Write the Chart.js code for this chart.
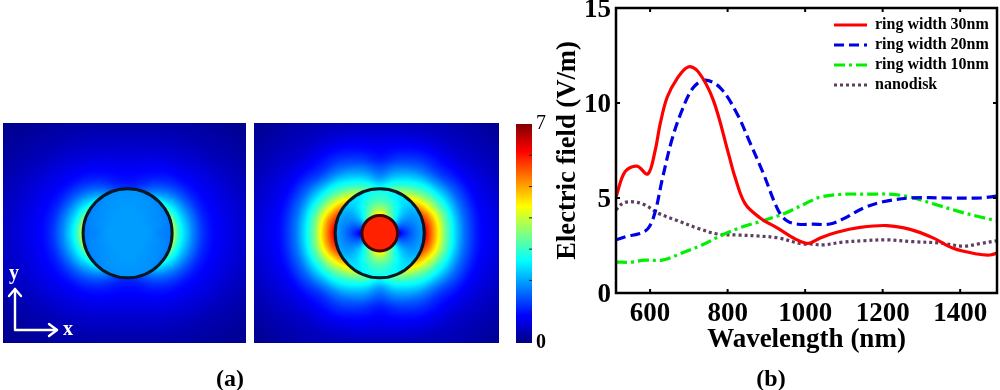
<!DOCTYPE html>
<html><head><meta charset="utf-8">
<style>
html,body{margin:0;padding:0;background:#fff;width:1000px;height:390px;overflow:hidden}
canvas{position:absolute;display:block}
.cap{position:absolute;font:bold 24px "Liberation Serif",serif;color:#000;line-height:24px;transform:translateX(-50%)}
</style>
<script src="https://cdn.jsdelivr.net/npm/chart.js@4/dist/chart.umd.min.js"></script>
</head><body>
<canvas id="main" style="left:0;top:0"></canvas>
<canvas id="h1" style="left:3px;top:123px"></canvas>
<canvas id="h2" style="left:254px;top:123px"></canvas>
<canvas id="cb" style="left:496px;top:113px"></canvas>
<div class="cap" style="left:230px;top:366px">(a)</div>
<div class="cap" style="left:771px;top:366px">(b)</div>
<script>
// ---- panel (b) spectra ----
const redX=[512,535,566,594,613,626,644,670,698,724,763,802,819,845,884,930,974,1000,1013,1039,1082,1142,1211,1271,1330,1382,1444,1477,1495];
const redY=[5.05,6.38,6.68,6.26,7.5,8.9,10.3,11.3,11.9,11.65,10.15,7.35,6.1,4.7,3.95,3.4,2.85,2.63,2.63,2.9,3.2,3.45,3.55,3.35,2.9,2.35,2.05,2.0,2.1];
const blueX=[512,543,569,595,613,631,656,682,711,742,781,824,858,892,930,953,982,1020,1064,1098,1150,1201,1271,1374,1452,1495];
const blueY=[2.8,3.0,3.1,3.4,4.27,5.95,8.05,9.6,10.8,11.2,10.8,9.45,7.9,6.3,4.37,3.8,3.62,3.62,3.63,3.9,4.47,4.8,5.0,5.0,5.0,5.1];
const greenX=[512,550,587,631,682,734,786,837,897,948,1000,1039,1098,1160,1219,1271,1330,1400,1452,1495];
const greenY=[1.63,1.62,1.73,1.73,2.1,2.53,3.05,3.47,3.84,4.2,4.7,5.05,5.2,5.2,5.2,5.05,4.7,4.27,4.0,3.8];
const diskX=[512,530,556,587,621,672,724,775,827,879,930,992,1013,1046,1098,1150,1211,1279,1348,1408,1452,1495];
const diskY=[4.37,4.73,4.8,4.63,4.2,3.8,3.4,3.1,3.05,3.0,2.9,2.58,2.58,2.53,2.68,2.75,2.8,2.7,2.63,2.47,2.6,2.75];
const seriesNames=['ring width 30nm','ring width 20nm','ring width 10nm','nanodisk'];
const xTicks=[600,800,1000,1200,1400], yTicks=[0,5,10,15];

// ---- panel (a) field maps: |E| read along rays from the ring centre ----
const angles=[0,15,30,45,60,75,90];
const radiiOut=[100,111,122,134,145,167,190,224,257,313,371];
const radiiRing=[40,54,70,85,100];
const diskEdge=40, ringEdge=100;
const diskOuter=[
 [4.1,3.2,2.6,2.2,1.8,1.25,.92,.72,.55,.3,.12],
 [3.9,3.05,2.5,2.1,1.75,1.2,.9,.7,.53,.3,.12],
 [3.2,2.7,2.3,1.9,1.55,1.1,.84,.65,.47,.26,.12],
 [2.6,2.2,1.85,1.55,1.3,.95,.76,.56,.38,.21,.1],
 [1.9,1.65,1.4,1.2,1.03,.84,.66,.47,.32,.17,.08],
 [1.35,1.2,1.05,.95,.86,.72,.57,.4,.26,.14,.07],
 [1.15,1.05,.95,.88,.8,.67,.53,.36,.23,.12,.06]];
const diskInner=[
 [1.95,1.9,1.8,1.75,1.7],[1.95,1.9,1.85,1.8,1.72],[1.95,1.9,1.85,1.82,1.75],[1.95,1.92,1.88,1.85,1.8],
 [1.95,1.92,1.9,1.88,1.85],[1.95,1.95,1.92,1.9,1.87],[1.95,1.95,1.92,1.9,1.87]];
const ringOuter=[
 [6.3,5.7,5.0,4.3,3.5,2.5,1.65,.95,.72,.38,.17],
 [6.0,5.5,4.9,4.2,3.5,2.5,1.65,.95,.68,.36,.17],
 [5.4,4.9,4.3,3.7,3.1,2.3,1.55,.9,.62,.34,.15],
 [4.6,4.2,3.6,3.1,2.7,1.9,1.25,.8,.52,.3,.13],
 [3.9,3.5,3.0,2.6,2.25,1.65,1.2,.76,.47,.26,.12],
 [3.2,2.9,2.5,2.15,1.85,1.35,1.0,.65,.39,.23,.1],
 [2.7,2.4,2.0,1.7,1.45,1.05,.85,.58,.34,.21,.09]];
const ringInner=[
 [.7,1.1,1.5,1.8,2.0],[1.3,1.45,1.65,1.85,2.0],[2.1,1.95,1.95,2.0,2.15],[3.0,2.6,2.35,2.3,2.4],
 [3.6,3.1,2.8,2.55,2.5],[4.2,3.6,3.1,2.8,2.65],[4.6,3.8,3.2,2.9,2.7]];
const coreValue=5.9;
const fieldMax=7;
const colorbarRange=[0,7];

const SERIF='"Liberation Serif",serif';
const clamp=v=>Math.max(0,Math.min(1,v));
function jet(v){const t=v/fieldMax;return [clamp(1.5-Math.abs(4*t-3))*255,clamp(1.5-Math.abs(4*t-2))*255,clamp(1.5-Math.abs(4*t-1))*255];}
function bracket(arr,v){let i=0;while(i<arr.length-2&&v>arr[i+1])i++;const f=Math.max(0,Math.min(1,(v-arr[i])/(arr[i+1]-arr[i])));return [i,f];}
function cr(a,b,c,d,t){return .5*(2*b+(c-a)*t+(2*a-5*b+4*c-d)*t*t+(3*b-a-3*c+d)*t*t*t);}
function lookup(tab,rs,r,th){
  const [a,fa]=bracket(angles,th),[b,fb]=bracket(rs,r);
  const row=k=>{const R=tab[k<0?-k:(k>6?12-k:k)];
    return cr(R[Math.max(b-1,0)],R[b],R[b+1],R[Math.min(b+2,R.length-1)],fb);};
  return cr(row(a-1),row(a),row(a+1),row(a+2),fa);
}
function fieldPlugin(cfg){return {id:'field',
  beforeDatasetsDraw(chart){
    const {ctx,chartArea:a,scales:{x,y}}=chart;
    const w=Math.round(a.right-a.left),h=Math.round(a.bottom-a.top);
    const off=document.createElement('canvas');off.width=w;off.height=h;
    const o=off.getContext('2d');
    const img=o.createImageData(w,h);
    for(let j=0;j<h;j++)for(let i=0;i<w;i++){
      const X=x.getValueForPixel(a.left+i+.5),Y=y.getValueForPixel(a.top+j+.5);
      const r=Math.hypot(X,Y),th=Math.atan2(Math.abs(Y),Math.abs(X))*180/Math.PI;
      let v;
      if(cfg.core!==undefined&&r<diskEdge)v=cfg.core;
      else if(r<ringEdge)v=lookup(cfg.inner,cfg.innerR,r,th);
      else v=lookup(cfg.outer,radiiOut,r,th);
      const c=jet(v),k=(j*w+i)*4;
      img.data[k]=c[0];img.data[k+1]=c[1];img.data[k+2]=c[2];img.data[k+3]=255;
    }
    o.putImageData(img,0,0);
    o.strokeStyle='#071620';
    o.lineWidth=3;
    const cx=x.getPixelForValue(0)-a.left,cy=y.getPixelForValue(0)-a.top,pxR=x.getPixelForValue(ringEdge)-a.left-cx;
    o.beginPath();o.arc(cx,cy,pxR,0,Math.PI*2);o.stroke();
    if(cfg.core!==undefined){
      o.strokeStyle='#3c0606';
      o.beginPath();o.arc(cx,cy,x.getPixelForValue(diskEdge)-a.left-cx,0,Math.PI*2);o.stroke();
    }
    ctx.save();
    ctx.drawImage(off,a.left,a.top);
    ctx.filter='blur(0.7px)';
    ctx.drawImage(off,a.left,a.top);
    ctx.filter='none';
    if(cfg.axes){
      ctx.strokeStyle='#fff';ctx.fillStyle='#fff';ctx.lineWidth=2.4;ctx.lineCap='round';ctx.lineJoin='round';
      const ox=12,oy=207;
      ctx.beginPath();ctx.moveTo(ox,oy-41);ctx.lineTo(ox,oy);ctx.lineTo(ox+42,oy);ctx.stroke();
      ctx.beginPath();ctx.moveTo(ox-6,oy-34);ctx.lineTo(ox,oy-41);ctx.lineTo(ox+6,oy-34);ctx.stroke();
      ctx.beginPath();ctx.moveTo(ox+34,oy-6);ctx.lineTo(ox+42,oy);ctx.lineTo(ox+34,oy+6);ctx.stroke();
      ctx.font='bold 20px '+SERIF;ctx.textAlign='center';ctx.textBaseline='middle';
      ctx.fillText('y',ox-1,oy-56);ctx.fillText('x',ox+53,oy+0);
    }
    ctx.restore();
  }};}
function fieldChart(id,w,h,xr,cfg){
  const el=document.getElementById(id);el.width=w;el.height=h;
  const nodes=[];
  angles.forEach((t,a)=>radiiOut.forEach((r,b)=>nodes.push({x:r*Math.cos(t*Math.PI/180),y:r*Math.sin(t*Math.PI/180),v:cfg.outer[a][b]})));
  new Chart(el,{type:'scatter',
    data:{datasets:[{data:nodes,pointRadius:0,showLine:false}]},
    options:{responsive:false,animation:false,events:[],layout:{padding:0},
      plugins:{legend:{display:false},tooltip:{enabled:false}},
      scales:{x:{type:'linear',display:false,min:xr[0],max:xr[1]},y:{type:'linear',display:false,min:-247,max:248}}},
    plugins:[fieldPlugin(cfg)]});
}
fieldChart('h1',243,220,[-280,266],{outer:diskOuter,inner:diskInner,innerR:radiiRing,axes:true});
fieldChart('h2',245,220,[-282.5,268],{outer:ringOuter,inner:ringInner,innerR:radiiRing,core:coreValue});

// colour bar
(function(){
  const el=document.getElementById('cb');el.width=60;el.height=250;
  new Chart(el,{type:'bar',
    data:{labels:['|E|'],datasets:[{data:[colorbarRange],barPercentage:1,categoryPercentage:1,borderWidth:0,borderSkipped:false,
      backgroundColor(c){const a=c.chart.chartArea;if(!a)return '#00f';
        const g=c.chart.ctx.createLinearGradient(0,a.bottom,0,a.top);
        for(let i=0;i<=16;i++){const col=jet(fieldMax*i/16);g.addColorStop(i/16,`rgb(${col[0]},${col[1]},${col[2]})`);}
        return g;}}]},
    options:{responsive:false,animation:false,events:[],
      layout:{padding:{left:20,top:11,bottom:20,right:0}},
      plugins:{legend:{display:false},tooltip:{enabled:false}},
      scales:{
        x:{display:false,grid:{display:false}},
        y:{position:'right',min:colorbarRange[0],max:colorbarRange[1],
          afterFit(s){s.width=24;s.paddingTop=0;s.paddingBottom=0;},
          border:{display:false},
          grid:{display:false,drawTicks:false},
          ticks:{stepSize:1,padding:4,color:'#000',autoSkip:false,maxRotation:0,
            callback:v=>(v===0||v===7)?String(v):'',
            font:c=>({family:SERIF,size:20,weight:c.tick&&c.tick.value===0?'bold':'normal'})}}}},
    plugins:[{id:'cbTicks',afterDatasetsDraw(chart){
      const {ctx,chartArea:a,scales:{y}}=chart;ctx.save();ctx.strokeStyle='#222';ctx.lineWidth=1;
      y.ticks.forEach(t=>{if(t.value>0&&t.value<7){const p=y.getPixelForValue(t.value);ctx.beginPath();ctx.moveTo(a.right-3,p);ctx.lineTo(a.right,p);ctx.stroke();}});
      ctx.restore();}}]});
})();

// main spectra chart
const toPts=(xs,ys)=>xs.map((x,i)=>({x,y:ys[i]}));
const common={fill:false,pointRadius:0,pointStyle:'line',borderWidth:3.2,tension:0.35,showLine:true};
const mainEl=document.getElementById('main');mainEl.width=1000;mainEl.height=390;
new Chart(mainEl,{type:'scatter',
  data:{datasets:[
    {...common,label:seriesNames[0],data:toPts(redX,redY),borderColor:'#ff0000',backgroundColor:'#ff0000'},
    {...common,label:seriesNames[1],data:toPts(blueX,blueY),borderColor:'#0000e6',backgroundColor:'#0000e6',borderDash:[10,5]},
    {...common,label:seriesNames[2],data:toPts(greenX,greenY),borderColor:'#00f000',backgroundColor:'#00f000',borderDash:[11,4,3,4]},
    {...common,label:seriesNames[3],data:toPts(diskX,diskY),borderColor:'#5e3f62',backgroundColor:'#5e3f62',borderDash:[3,3]}
  ]},
  options:{responsive:false,animation:false,events:[],
    layout:{padding:{left:546,right:3,top:8,bottom:34}},
    plugins:{tooltip:{enabled:false},
      legend:{position:'chartArea',align:'start',
        labels:{usePointStyle:true,pointStyleWidth:33,boxHeight:3,padding:4,color:'#000',
          font:{family:SERIF,size:16,weight:'bold'},
          generateLabels(chart){return chart.data.datasets.map((d,i)=>({text:d.label,datasetIndex:i,fontColor:'#000',
            fillStyle:d.borderColor,strokeStyle:d.borderColor,lineWidth:3,lineDash:d.borderDash||[],pointStyle:'line'}));}}}},
    scales:{
      x:{type:'linear',min:512,max:1495,
        afterBuildTicks(s){s.ticks=xTicks.map(value=>({value}));},
        afterFit(s){s.height=63;s.paddingLeft=0;s.paddingRight=0;},
        grid:{display:false,drawTicks:false},border:{display:false},
        ticks:{autoSkip:false,color:'#000',padding:5,maxRotation:0,callback:v=>String(v),font:{family:SERIF,size:27,weight:'bold'}},
        title:{display:true,text:'Wavelength (nm)',color:'#000',padding:{top:0,bottom:0},font:{family:SERIF,size:27,weight:'bold'}}},
      y:{type:'linear',min:0,max:15,
        afterBuildTicks(s){s.ticks=yTicks.map(value=>({value}));},
        afterFit(s){s.width=70;s.paddingTop=0;s.paddingBottom=0;},
        grid:{display:false,drawTicks:false},border:{display:false},
        ticks:{autoSkip:false,color:'#000',padding:5,labelOffset:2,callback:v=>String(v),font:{family:SERIF,size:27,weight:'bold'}},
        title:{display:true,text:'Electric field (V/m)',color:'#000',padding:{top:6,bottom:0},font:{family:SERIF,size:26.6,weight:'bold'}}}
    }},
  plugins:[{id:'frame',
    afterLayout(chart){const l=chart.legend;if(l){l.left=830;l.top=13;l.right=l.left+l.width;l.bottom=l.top+l.height;}},
    afterDatasetsDraw(chart){
      const {ctx,chartArea:a,scales:{x,y}}=chart;ctx.save();
      ctx.strokeStyle='#000';ctx.lineWidth=2.5;ctx.strokeRect(a.left,a.top,a.right-a.left,a.bottom-a.top);
      ctx.lineWidth=2;ctx.beginPath();
      x.ticks.forEach(t=>{const p=x.getPixelForValue(t.value);ctx.moveTo(p,a.bottom);ctx.lineTo(p,a.bottom-4);ctx.moveTo(p,a.top);ctx.lineTo(p,a.top+4);});
      y.ticks.forEach(t=>{if(t.value>0&&t.value<15){const p=y.getPixelForValue(t.value);ctx.moveTo(a.left,p);ctx.lineTo(a.left+4,p);ctx.moveTo(a.right,p);ctx.lineTo(a.right-4,p);}});
      ctx.stroke();ctx.restore();}}]});
</script>
</body></html>
